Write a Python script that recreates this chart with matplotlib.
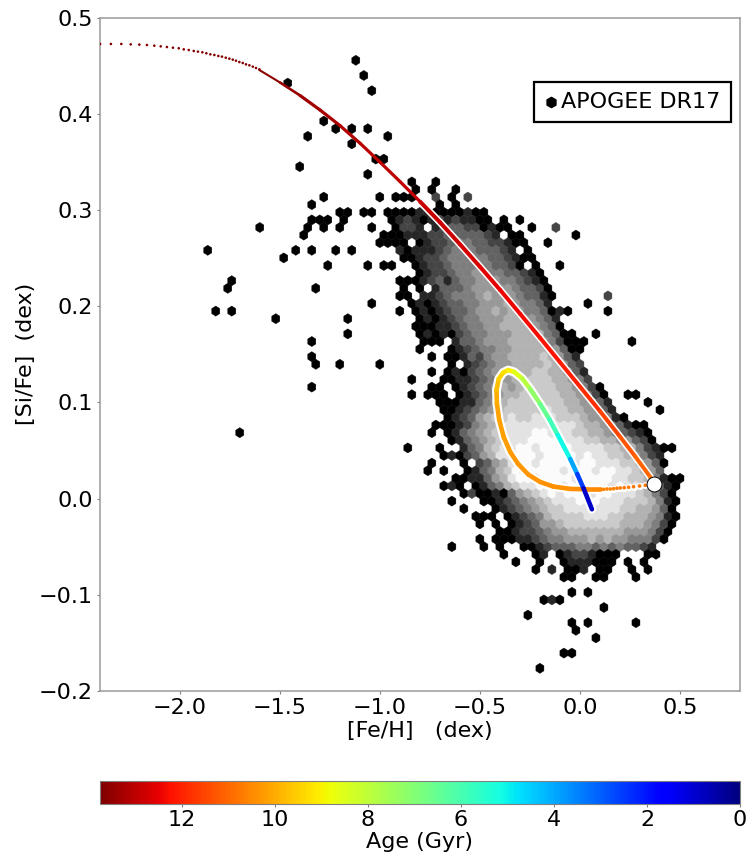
import numpy as np
import matplotlib
matplotlib.use("Agg")
import matplotlib.pyplot as plt
from matplotlib.collections import LineCollection
from matplotlib.colors import Normalize, PowerNorm
from matplotlib.cm import ScalarMappable

# hexbin grid
row_y0 = -0.1764
row_dy = 0.0079013

# dense cloud: row number, x of first cell, grey level per cell (0 black .. 9 white, . empty)
hex_row = [64, 63, 62, 61, 60, 59, 58, 57, 56, 55, 54, 53, 52, 51, 50, 49, 48, 47, 46, 45, 44, 43,
           42, 41, 40, 39, 38, 37, 36, 35, 34, 33, 32, 31, 30, 29, 28, 27, 26, 25, 24, 23, 22, 21,
           20, 19, 18, 17, 16, 15, 14, 13, 12, 10, 9, 8, 7, 6, 5, 4, 2, 0]
hex_start = [-0.84, -0.82, -0.92, -0.70, -0.92, -0.94, -0.92, -0.94, -0.92, -0.90, -0.88, -0.82,
             -0.80, -0.90, -0.88, -0.90, -0.84, -0.82, -0.80, -0.82, -0.80, -0.78,
             -0.64, -0.66, -0.64, -0.66, -0.68, -0.74, -0.76, -0.70, -0.68, -0.66, -0.72, -0.74,
             -0.64, -0.70, -0.68, -0.74, -0.76, -0.62, -0.68, -0.58, -0.64, -0.58,
             -0.52, -0.50, -0.40, -0.50, -0.48, -0.38, -0.32, -0.22, -0.08, -0.04, -0.18, 0.12,
             -0.26, -0.04, -0.02, 0.08, -0.08, -0.20]
hex_levels = [
    "0..0",
    "0.0..0",
    "00...2.0.2",
    "0.0",
    "000110000100",
    "0121012121100.0.0",
    "0221.1233220100..0..2",
    "00111223333321.00......0",
    "00.01223443322100..0",
    "101112344433321.0",
    "00122344444332100",
    "01223444443320.0..0",
    "0122344554433210",
    "0001231344555443210",
    "0.0.133345555543320",
    "00.11234445655543310......2",
    "010123344555654431....0",
    "01012334556565443010....0",
    "010123445556665431",
    "0001123445566665430",
    "01010234455566664300..0",
    "000.13345556666542000.....0",
    "01234455666665300",
    "00132455666676531",
    "0.123455666676532",
    "010234556667766531",
    "0011234556677766542",
    "00.0123456567777665420",
    "000.0123456677777665420..00",
    "0001134567777777665531....0",
    "0012345677777877665531.....0",
    "01235677877888777655410",
    "000124567888888888766543100",
    "0.01345678888998887766543210",
    "01345678889999888776655320",
    "0..134678899899998888776642100",
    "0102356889998999989887765421",
    "0...0.235689989999899888776530",
    "0.0..0134679899998999899887653",
    "00113568998999989999887764100",
    "010.01346788999899999898865310",
    "020010356789899989988876420",
    "0...0012345678889998887776410",
    "0...01234567788888887766530",
    "000.0123467777888776665410",
    "0.0.012355677777776665420",
    "0012234556666666555420",
    "0.0001123445556565544420",
    "0.0..00123334434343321",
    "0...01.01221000...00",
    "0..0..0111000.0.0",
    "0.1.001.00..0.0",
    "00..00...0",
    "0.0",
    "010",
    "0",
    "0",
    "0.0.....0",
    "0",
    "0",
    "00",
    "0",
]

# lone black cells away from the cloud
sparse_row = [80, 78, 76, 77, 72, 71, 71, 71, 70, 69, 70, 66, 65, 67, 67, 62, 62, 61, 60, 60, 60, 60,
              60, 59, 59, 59, 59, 58, 58, 58, 58, 58, 57, 57, 57, 56, 56, 55, 55, 55, 55, 55, 54,
              53, 53, 53, 53, 51, 50, 50, 48, 47, 47, 47, 46, 46, 44, 43, 41, 40, 40, 40, 37, 38,
              36, 41, 39, 42, 31, 29, 16, 62]
sparse_x = [-1.12, -1.08, -1.04, -1.46, -1.28, -1.22, -1.14, -1.06, -1.36, -1.14, -0.96, -1.40, -1.06,
            -1.02, -0.98, -1.00, -1.28, -1.34, -1.20, -1.16, -1.08, -1.04,
            -0.96, -1.34, -1.30, -1.26, -1.18, -1.36, -1.28, -1.20, -1.04, -1.60, -1.38, -0.98, -0.94,
            -1.00, -0.96, -1.86, -1.42, -1.34, -1.22, -1.14, -1.48,
            -1.26, -1.06, -0.98, -0.94, -1.74, -1.76, -1.32, -1.04, -0.90, -1.82, -1.74, -1.52, -1.16,
            -1.16, -1.34, -1.34, -1.32, -1.20, -1.00, -1.34, -0.84,
            -0.84, -0.74, -0.74, -0.80, -1.70, -0.86, -0.64, -0.84]

# model track
early_feh = [-2.398, -2.344, -2.292, -2.245, -2.202, -2.164, -2.127, -2.095, -2.064, -2.034, -2.005,
             -1.980, -1.955, -1.930, -1.909, -1.887, -1.867, -1.847, -1.827, -1.807, -1.789, -1.770,
             -1.752, -1.735, -1.719, -1.702, -1.685, -1.669, -1.652, -1.635, -1.619, -1.602]
early_sife = [0.4727, 0.4727, 0.4727, 0.4723, 0.4720, 0.4716, 0.4709, 0.4702, 0.4695, 0.4688, 0.4682,
              0.4671, 0.4664, 0.4654, 0.4647, 0.4640, 0.4630, 0.4619, 0.4612, 0.4602, 0.4595, 0.4584,
              0.4574, 0.4564, 0.4553, 0.4539, 0.4529, 0.4515, 0.4505, 0.4491, 0.4477, 0.4463]

rise_feh = [-1.602, -1.4985, -1.3985, -1.2985, -1.1985, -1.0985, -0.9985, -0.8985, -0.7985, -0.6985,
            -0.5985, -0.4985, -0.3985, -0.2985, -0.1985, -0.0985, 0.0015, 0.1015, 0.2015, 0.2765,
            0.3515, 0.3680]
rise_sife = [0.4456, 0.4326, 0.4191, 0.4040, 0.3877, 0.3694, 0.3497, 0.3295, 0.3087, 0.2871,
             0.2642, 0.2408, 0.2169, 0.1920, 0.1670, 0.1415, 0.1161, 0.0906, 0.0641, 0.0438,
             0.0225, 0.0149]
rise_age = [13.6, 13.5, 13.4, 13.3, 13.2, 13.1, 13.0, 12.95, 12.9, 12.85,
            12.8, 12.65, 12.5, 12.4, 12.3, 12.15, 12.0, 11.65, 11.4, 11.15, 10.9, 10.85]

gap_feh = [0.3265, 0.2980, 0.2680, 0.2430, 0.2215, 0.2015, 0.1850, 0.1680, 0.1515, 0.1350, 0.1180, 0.1015]
gap_sife = [0.0139, 0.0131, 0.0124, 0.0118, 0.0114, 0.0111, 0.0108, 0.0103, 0.0100, 0.0100, 0.0097, 0.0097]
gap_age = [10.8, 10.78, 10.76, 10.74, 10.72, 10.7, 10.68, 10.66, 10.64, 10.62, 10.6, 10.55]

loop_feh = [0.1015, 0.0350, -0.0485, -0.1335, -0.1985, -0.2585, -0.3085, -0.3485, -0.3810, -0.4035,
            -0.4150, -0.4170, -0.4060, -0.3835, -0.3585, -0.3285, -0.2885, -0.2485, -0.1985, -0.1535,
            -0.1110, -0.0485, -0.0135, 0.0180, 0.0600]
loop_sife = [0.0097, 0.0097, 0.0101, 0.0126, 0.0173, 0.0251, 0.0360, 0.0485, 0.0641, 0.0818,
             0.0991, 0.1130, 0.1244, 0.1311, 0.1337, 0.1317, 0.1249, 0.1140, 0.0984, 0.0828,
             0.0662, 0.0412, 0.0256, 0.0108, -0.0111]
loop_age = [10.55, 10.5, 10.45, 10.4, 10.35, 10.3, 10.3, 10.25, 10.2, 10.15,
            10.1, 9.9, 9.6, 9.3, 9.1, 8.9, 8.2, 7.6, 6.9, 6.2,
            5.6, 4.6, 3.3, 1.8, 0.0]

now_feh = 0.368
now_sife = 0.0149

age_max = 13.76
age_ticks = [12, 10, 8, 6, 4, 2, 0]
x_ticks = [-2.0, -1.5, -1.0, -0.5, 0.0, 0.5]
y_ticks = [-0.2, -0.1, 0.0, 0.1, 0.2, 0.3, 0.4, 0.5]

W, H = 748, 859
fig = plt.figure(figsize=(W / 100, H / 100), dpi=100)
ax = fig.add_axes([99.7 / W, 1 - 691 / H, 640.3 / W, 673.3 / H])

cell_x, cell_y, cell_c = [], [], []
for n, x0, levels in zip(hex_row, hex_start, hex_levels):
    for i, ch in enumerate(levels):
        if ch != ".":
            cell_x.append(x0 + i * 0.04)
            cell_y.append(row_y0 + n * row_dy)
            cell_c.append(int(ch))
for n, x in zip(sparse_row, sparse_x):
    cell_x.append(x)
    cell_y.append(row_y0 + n * row_dy)
    cell_c.append(0)

ax.hexbin(cell_x, cell_y, C=cell_c, gridsize=(80, 41), reduce_C_function=np.max,
          extent=(-2.4, 0.8, row_y0, row_y0 + 82 * row_dy), cmap="gray",
          norm=PowerNorm(0.85, vmin=0, vmax=9.2), linewidths=0.3, zorder=1)

norm = Normalize(0, age_max)


def colored_line(feh, sife, age, lw):
    pts = np.column_stack([feh, sife])
    segs = np.stack([pts[:-1], pts[1:]], axis=1)
    seg_age = (np.array(age[:-1]) + np.array(age[1:])) / 2
    lc = LineCollection(segs, cmap="jet", norm=norm, linewidths=lw, capstyle="round", zorder=4)
    lc.set_array(seg_age)
    ax.add_collection(lc)


# white halo first, colour on top
ax.plot(rise_feh[8:], rise_sife[8:], color="white", lw=5.2, zorder=3, solid_capstyle="round")
ax.plot(loop_feh, loop_sife, color="white", lw=6.4, zorder=3, solid_capstyle="round")
ax.scatter(gap_feh, gap_sife, s=26, color="white", linewidths=0, zorder=3)
ax.scatter(early_feh, early_sife, s=3.5, c=[13.7] * len(early_feh), cmap="jet", norm=norm,
           linewidths=0, zorder=4)
# upper part of the rise is thinner in the picture
rise_lw = [1.5, 1.9] + [2.3] * 6 + [2.9] * 13
colored_line(rise_feh, rise_sife, rise_age, rise_lw)
colored_line(loop_feh, loop_sife, loop_age, 3.3)
ax.scatter(gap_feh, gap_sife, s=7, c=gap_age, cmap="jet", norm=norm, linewidths=0, zorder=4)
ax.scatter([now_feh], [now_sife], s=115, facecolor="white", edgecolor="black", linewidths=0.7, zorder=5)

ax.set_xlim(-2.4, 0.8)
ax.set_ylim(-0.2, 0.5)
ax.set_xticks(x_ticks)
ax.set_yticks(y_ticks)
ax.set_xticklabels(["\u22122.0", "\u22121.5", "\u22121.0", "\u22120.5", "0.0", "0.5"])
ax.set_yticklabels(["\u22120.2", "\u22120.1", "0.0", "0.1", "0.2", "0.3", "0.4", "0.5"])
ax.tick_params(labelsize=16, length=2.5, width=0.8, color="#808080", pad=2.5)
for s in ax.spines.values():
    s.set_color("#9a9a9a")
    s.set_linewidth(1.1)
ax.set_xlabel("[Fe/H]   (dex)", fontsize=16, labelpad=2)
ax.set_ylabel("[Si/Fe]  (dex)", fontsize=16, labelpad=2)

h = ax.scatter([], [], marker="h", s=55, color="black", label="APOGEE DR17")
leg = ax.legend(handles=[h], loc="upper right", bbox_to_anchor=(631 / 640.3, 1 - 64 / 673.3),
                fontsize=16, fancybox=False, framealpha=1, edgecolor="black", borderaxespad=0,
                handlelength=0.55, handletextpad=0.2, borderpad=0.46)
leg.get_frame().set_linewidth(1.6)

cax = fig.add_axes([100 / W, 1 - 804 / H, 640 / W, 23 / H])
cbar = fig.colorbar(ScalarMappable(norm=norm, cmap="jet"), cax=cax, orientation="horizontal")
cbar.set_ticks(age_ticks)
cbar.set_ticklabels([str(t) for t in age_ticks])
cax.invert_xaxis()
cax.tick_params(labelsize=16, length=2.5, width=0.8, color="#808080", pad=2)
cbar.outline.set_edgecolor("#808080")
cbar.outline.set_linewidth(0.8)
cbar.set_label("Age (Gyr)", fontsize=16, labelpad=1)

fig.savefig("out.png", dpi=100)
